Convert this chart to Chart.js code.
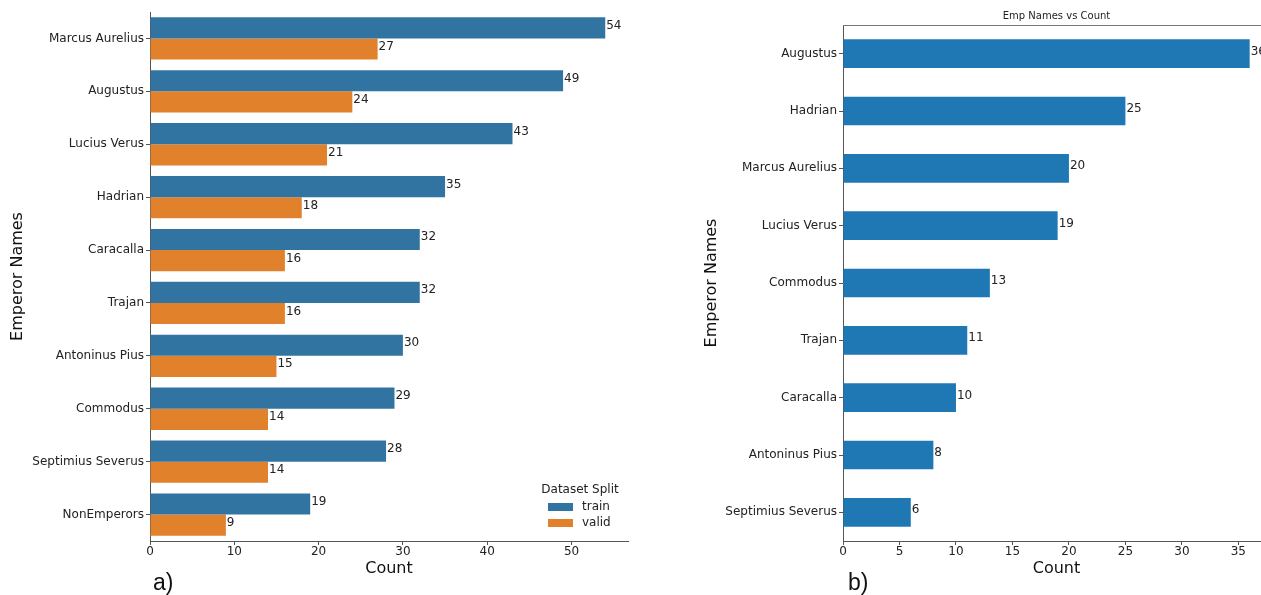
<!DOCTYPE html>
<html lang="en">
<head>
  <meta charset="UTF-8" />
  <title>Emperor Names vs Count</title>
  <script src="https://cdn.jsdelivr.net/npm/chart.js@4"></script>
  <style>
    html, body {
      margin: 0;
      padding: 0;
      width: 1261px;
      height: 595px;
      overflow: hidden;
      background: white;
      font-family: "DejaVu Sans", sans-serif;
    }
    .panel {
      position: absolute;
      top: 0;
    }
    #leftPanel { left: 0; width: 640px; height: 595px; }
    #rightPanel { left: 690px; width: 600px; height: 595px; }
    .tag {
      position: absolute;
      top: 571px;
      font-family: "Liberation Sans", Arial, sans-serif;
      font-size: 23px;
      line-height: 1;
      color: #111;
    }
  </style>
</head>
<body>
  <div class="panel" id="leftPanel"><canvas id="splitChart" width="640" height="595"></canvas></div>
  <div class="panel" id="rightPanel"><canvas id="countChart" width="600" height="595"></canvas></div>
  <div class="tag" style="left:153px">a)</div>
  <div class="tag" style="left:848px">b)</div>

  <script>
    // === data: panel a) (train / valid split) ===
    const splitNames = ['Marcus Aurelius', 'Augustus', 'Lucius Verus', 'Hadrian', 'Caracalla',
      'Trajan', 'Antoninus Pius', 'Commodus', 'Septimius Severus', 'NonEmperors'];
    const trainCounts = [54, 49, 43, 35, 32, 32, 30, 29, 28, 19];
    const validCounts = [27, 24, 21, 18, 16, 16, 15, 14, 14, 9];

    // === data: panel b) (emp names vs count) ===
    const empNames = ['Augustus', 'Hadrian', 'Marcus Aurelius', 'Lucius Verus', 'Commodus',
      'Trajan', 'Caracalla', 'Antoninus Pius', 'Septimius Severus'];
    const empCounts = [36, 25, 20, 19, 13, 11, 10, 8, 6];

    Chart.defaults.font.family = '"DejaVu Sans", sans-serif';
    Chart.defaults.font.size = 12;
    Chart.defaults.color = '#222';

    const axisColor = '#555';

    // value labels at the end of each bar
    const barLabels = {
      id: 'barLabels',
      afterDatasetsDraw(chart) {
        const ctx = chart.ctx;
        ctx.save();
        ctx.font = '12px "DejaVu Sans"';
        ctx.fillStyle = '#222';
        ctx.textAlign = 'left';
        ctx.textBaseline = 'alphabetic';
        chart.data.datasets.forEach((ds, i) => {
          chart.getDatasetMeta(i).data.forEach((bar, j) => {
            ctx.fillText(String(ds.data[j]), bar.x + 1, bar.y + 1);
          });
        });
        ctx.restore();
      }
    };

    // seaborn-style legend in the lower right of the plot
    const splitLegend = {
      id: 'splitLegend',
      afterDraw(chart) {
        const { ctx, chartArea } = chart;
        const r = chartArea.right, b = chartArea.bottom;
        ctx.save();
        ctx.font = '12px "DejaVu Sans"';
        ctx.fillStyle = '#222';
        ctx.textAlign = 'center';
        ctx.textBaseline = 'middle';
        ctx.fillText('Dataset Split', r - 48, b - 51);
        ctx.textAlign = 'left';
        chart.data.datasets.forEach((ds, i) => {
          const y = b - 34 + i * 16;
          ctx.fillStyle = ds.backgroundColor;
          ctx.fillRect(r - 80, y - 4, 25, 8);
          ctx.fillStyle = '#222';
          ctx.fillText(ds.label, r - 46, y);
        });
        ctx.restore();
      }
    };

    // small title plus top spine for panel b)
    const frameTitle = {
      id: 'frameTitle',
      afterDraw(chart) {
        const { ctx, chartArea } = chart;
        ctx.save();
        ctx.strokeStyle = '#777';
        ctx.lineWidth = 1;
        ctx.beginPath();
        ctx.moveTo(chartArea.left, chartArea.top + 0.5);
        ctx.lineTo(chartArea.right + 20, chartArea.top + 0.5);
        ctx.stroke();
        ctx.font = '10px "DejaVu Sans"';
        ctx.fillStyle = '#222';
        ctx.textAlign = 'center';
        ctx.textBaseline = 'middle';
        ctx.fillText('Emp Names vs Count', (chartArea.left + chartArea.right) / 2, 16);
        ctx.restore();
      }
    };

    function countAxis(max, step, height) {
      return {
        min: 0,
        max: max,
        afterFit(scale) { scale.height = height; },
        ticks: { stepSize: step, includeBounds: false, padding: 0, color: '#222', font: { size: 12 } },
        grid: { display: true, drawOnChartArea: false, drawTicks: true, tickLength: 4, color: axisColor },
        border: { display: true, color: axisColor },
        title: { display: true, text: 'Count', color: '#111', font: { size: 16 }, padding: { top: 0, bottom: 17 } }
      };
    }

    function nameAxis(width, titlePad) {
      return {
        afterFit(scale) { scale.width = width; },
        ticks: { padding: 2, color: '#222', font: { size: 12 } },
        grid: { display: true, offset: false, drawOnChartArea: false, drawTicks: true, tickLength: 4, color: axisColor },
        border: { display: true, color: axisColor },
        title: { display: true, text: 'Emperor Names', color: '#111', font: { size: 16 }, padding: { top: titlePad, bottom: 0 } }
      };
    }

    // === Panel a) ===
    new Chart(document.getElementById('splitChart'), {
      type: 'bar',
      data: {
        labels: splitNames,
        datasets: [
          { label: 'train', data: trainCounts, backgroundColor: '#3274a1' },
          { label: 'valid', data: validCounts, backgroundColor: '#e1812c' }
        ]
      },
      options: {
        indexAxis: 'y',
        responsive: false,
        animation: false,
        layout: { padding: { top: 12, right: 12, left: 0, bottom: 0 } },
        datasets: { bar: { categoryPercentage: 0.8, barPercentage: 1.0 } },
        plugins: { legend: { display: false }, tooltip: { enabled: false } },
        scales: {
          x: countAxis(56.7, 10, 54),
          y: nameAxis(150, 8)
        }
      },
      plugins: [barLabels, splitLegend]
    });

    // === Panel b) ===
    new Chart(document.getElementById('countChart'), {
      type: 'bar',
      data: {
        labels: empNames,
        datasets: [
          { label: 'Count', data: empCounts, backgroundColor: '#1f77b4' }
        ]
      },
      options: {
        indexAxis: 'y',
        responsive: false,
        animation: false,
        layout: { padding: { top: 25, right: 20, left: 0, bottom: 0 } },
        datasets: { bar: { categoryPercentage: 1.0, barPercentage: 0.5 } },
        plugins: { legend: { display: false }, tooltip: { enabled: false } },
        scales: {
          x: countAxis(37.8, 5, 54),
          y: nameAxis(153, 12)
        }
      },
      plugins: [barLabels, frameTitle]
    });
  </script>
</body>
</html>
